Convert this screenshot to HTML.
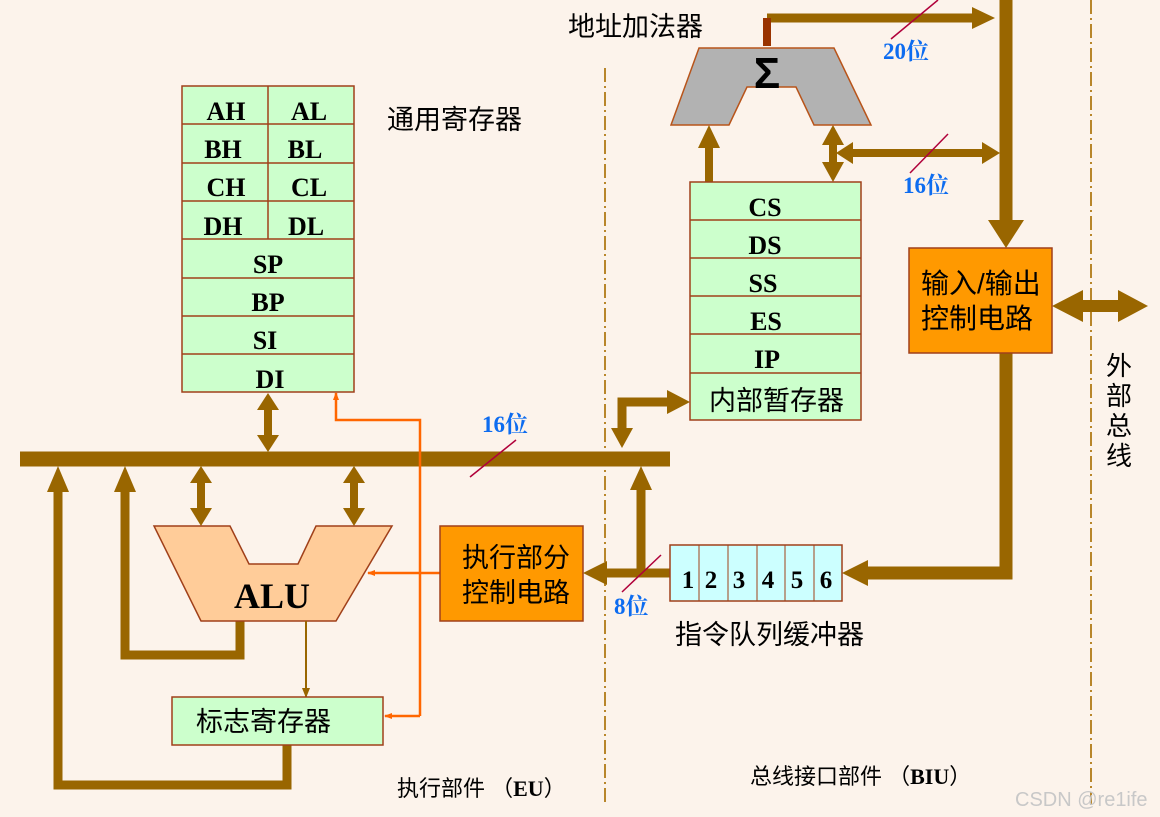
<!DOCTYPE html>
<html><head><meta charset="utf-8"><style>
html,body{margin:0;padding:0;background:#fcf3eb;}
svg{display:block;}
.s{font-family:"Liberation Serif","Noto Serif CJK SC",serif;font-weight:bold;}
.c{font-family:"Liberation Sans","Noto Sans CJK SC",sans-serif;}
</style></head><body>
<svg width="1160" height="817" viewBox="0 0 1160 817" xmlns="http://www.w3.org/2000/svg">
<rect width="1160" height="817" fill="#fcf3eb"/>
<defs>
<marker id="oa" markerWidth="8" markerHeight="8" refX="7" refY="4" orient="auto" markerUnits="userSpaceOnUse"><path d="M0,1 L8,4 L0,7 z" fill="#ff6600"/></marker>
<marker id="ta" markerWidth="10" markerHeight="10" refX="9" refY="5" orient="auto" markerUnits="userSpaceOnUse"><path d="M0,1 L10,5 L0,9 z" fill="#996600"/></marker>
</defs>

<line x1="605" y1="68" x2="605" y2="805" stroke="#b8862b" stroke-width="2" stroke-dasharray="14,4,2,4"/>
<line x1="1091" y1="0" x2="1091" y2="805" stroke="#b8862b" stroke-width="2" stroke-dasharray="14,4,2,4"/>

<g fill="none" stroke="#996600">
<line x1="20" y1="459" x2="670" y2="459" stroke-width="15"/>
<line x1="268" y1="410" x2="268" y2="436" stroke-width="8"/>
<line x1="201" y1="482" x2="201" y2="508" stroke-width="8"/>
<line x1="354" y1="482" x2="354" y2="508" stroke-width="8"/>
<path d="M240,621 V655 H125 V490" stroke-width="9"/>
<path d="M287,745 V785 H58 V490" stroke-width="9"/>
<path d="M670,573 H605" stroke-width="9"/>
<line x1="641" y1="573" x2="641" y2="490" stroke-width="9"/>
<path d="M622,430 V402 H668" stroke-width="9"/>
<line x1="1006" y1="0" x2="1006" y2="222" stroke-width="13"/>
<path d="M1006,353 V573 H868" stroke-width="13"/>
<path d="M767,18 H975" stroke-width="9"/>
<line x1="709" y1="182" x2="709" y2="148" stroke-width="8"/>
<line x1="833" y1="145" x2="833" y2="163" stroke-width="8"/>
<line x1="852" y1="153" x2="983" y2="153" stroke-width="8"/>
<line x1="1075" y1="306" x2="1125" y2="306" stroke-width="12"/>
</g>
<g fill="#996600">
<polygon points="268,393 257,410 279,410"/><polygon points="268,452 257,435 279,435"/>
<polygon points="201,466 190,483 212,483"/><polygon points="201,526 190,508 212,508"/>
<polygon points="354,466 343,483 365,483"/><polygon points="354,526 343,508 365,508"/>
<polygon points="125,466 114,492 136,492"/>
<polygon points="58,466 47,492 69,492"/>
<polygon points="583,573 607,561 607,585"/>
<polygon points="641,466 630,490 652,490"/>
<polygon points="622,448 611,428 633,428"/>
<polygon points="690,402 667,390 667,414"/>
<polygon points="1006,248 988,220 1024,220"/>
<polygon points="842,573 868,560 868,586"/>
<polygon points="995,18 972,7 972,29"/>
<polygon points="709,125 698,148 720,148"/>
<polygon points="833,125 822,145 844,145"/><polygon points="833,182 822,162 844,162"/>
<polygon points="836,153 853,142 853,164"/><polygon points="1000,153 982,142 982,164"/>
<polygon points="1052,306 1083,290 1083,322"/><polygon points="1148,306 1118,290 1118,322"/>
</g>
<rect x="763" y="18" width="8" height="28" fill="#993300"/>

<polygon points="671,125 699,48 834,48 871,125 814,125 796,87 747,87 729,125" fill="#b2b2b2" stroke="#b8541a" stroke-width="1.5"/>
<text x="767" y="88" text-anchor="middle" class="c" font-size="44" font-weight="bold">Σ</text>
<text x="568" y="36" class="c" font-size="27">地址加法器</text>

<g stroke="#a0401a" stroke-width="1.5" fill="#ccffcc">
<rect x="182" y="86" width="172" height="306"/>
<line x1="182" y1="124" x2="354" y2="124"/><line x1="182" y1="163" x2="354" y2="163"/>
<line x1="182" y1="201" x2="354" y2="201"/><line x1="182" y1="239" x2="354" y2="239"/>
<line x1="182" y1="278" x2="354" y2="278"/><line x1="182" y1="316" x2="354" y2="316"/>
<line x1="182" y1="354" x2="354" y2="354"/><line x1="268" y1="86" x2="268" y2="239"/>
</g>
<g class="s" font-size="26" text-anchor="middle">
<text x="226" y="120">AH</text><text x="309" y="120">AL</text>
<text x="223" y="158">BH</text><text x="305" y="158">BL</text>
<text x="226" y="196">CH</text><text x="309" y="196">CL</text>
<text x="223" y="235">DH</text><text x="306" y="235">DL</text>
<text x="268" y="273">SP</text><text x="268" y="311">BP</text>
<text x="265" y="349">SI</text><text x="270" y="388">DI</text>
</g>
<text x="387" y="129" class="c" font-size="27">通用寄存器</text>

<g stroke="#a0401a" stroke-width="1.5" fill="#ccffcc">
<rect x="690" y="182" width="171" height="238"/>
<line x1="690" y1="220" x2="861" y2="220"/><line x1="690" y1="258" x2="861" y2="258"/>
<line x1="690" y1="296" x2="861" y2="296"/><line x1="690" y1="334" x2="861" y2="334"/>
<line x1="690" y1="373" x2="861" y2="373"/>
</g>
<g class="s" font-size="26" text-anchor="middle">
<text x="765" y="216">CS</text><text x="765" y="254">DS</text><text x="763" y="292">SS</text>
<text x="766" y="330">ES</text><text x="767" y="368">IP</text>
</g>
<text x="709" y="410" class="c" font-size="27">内部暂存器</text>

<rect x="909" y="248" width="143" height="105" fill="#ff9900" stroke="#a0401a" stroke-width="1.5"/>
<text x="921" y="293" class="c" font-size="28">输入/输出</text>
<text x="921" y="328" class="c" font-size="28">控制电路</text>
<g class="c" font-size="26"><text x="1106" y="375">外</text><text x="1106" y="405">部</text><text x="1106" y="435">总</text><text x="1106" y="465">线</text></g>

<polygon points="154,526 230,526 249,564 298,564 316,526 392,526 336,621 201,621" fill="#ffcc99" stroke="#a0401a" stroke-width="1.5"/>
<text x="272" y="608" text-anchor="middle" class="s" font-size="36">ALU</text>
<line x1="306" y1="621" x2="306" y2="697" stroke="#996600" stroke-width="2" marker-end="url(#ta)"/>

<rect x="172" y="697" width="211" height="48" fill="#ccffcc" stroke="#a0401a" stroke-width="1.5"/>
<text x="196" y="731" class="c" font-size="27">标志寄存器</text>

<path d="M440,573 H368" fill="none" stroke="#ff6600" stroke-width="2.5" marker-end="url(#oa)"/>
<path d="M420,716 V420 H336 V393" fill="none" stroke="#ff6600" stroke-width="2.5" marker-end="url(#oa)"/>
<path d="M420,716 H385" fill="none" stroke="#ff6600" stroke-width="2.5" marker-end="url(#oa)"/>

<rect x="440" y="526" width="143" height="95" fill="#ff9900" stroke="#a0401a" stroke-width="1.5"/>
<text x="462" y="567" class="c" font-size="27">执行部分</text>
<text x="462" y="602" class="c" font-size="27">控制电路</text>

<rect x="670" y="545" width="172" height="56" fill="#ccffff" stroke="#a0401a" stroke-width="1.5"/>
<g stroke="#a0401a" stroke-width="1"><line x1="699" y1="545" x2="699" y2="601"/><line x1="728" y1="545" x2="728" y2="601"/><line x1="757" y1="545" x2="757" y2="601"/><line x1="785" y1="545" x2="785" y2="601"/><line x1="814" y1="545" x2="814" y2="601"/></g>
<g class="s" font-size="25" text-anchor="middle"><text x="688" y="588">1</text><text x="711" y="588">2</text><text x="739" y="588">3</text><text x="768" y="588">4</text><text x="797" y="588">5</text><text x="826" y="588">6</text></g>
<text x="675" y="644" class="c" font-size="27">指令队列缓冲器</text>

<g stroke="#b0003a" stroke-width="1.5">
<line x1="470" y1="477" x2="516" y2="440"/>
<line x1="622" y1="592" x2="661" y2="555"/>
<line x1="891" y1="39" x2="938" y2="0"/>
<line x1="910" y1="173" x2="948" y2="134"/>
</g>
<g class="s" font-size="23" fill="#0d6cf0">
<text x="482" y="432">16位</text><text x="614" y="614">8位</text>
<text x="883" y="59">20位</text><text x="903" y="193">16位</text>
</g>

<text x="397" y="796" class="c" font-size="22">执行部件 （<tspan class="s">EU</tspan>）</text>
<text x="750" y="784" class="c" font-size="22">总线接口部件 （<tspan class="s">BIU</tspan>）</text>
<text x="1015" y="806" class="c" font-size="20" fill="#c8c8c8">CSDN @re1ife</text>
</svg>
</body></html>
